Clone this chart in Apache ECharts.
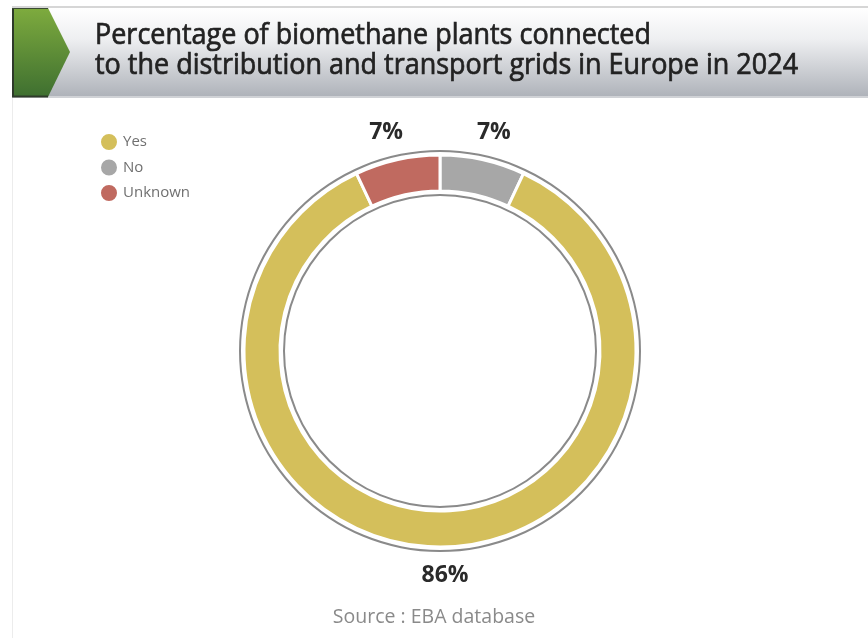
<!DOCTYPE html>
<html>
<head>
<meta charset="utf-8">
<script src="https://cdn.jsdelivr.net/npm/echarts@6/dist/echarts.min.js"></script>
<style>
html,body{margin:0;padding:0;background:#fff;}
#chart{width:868px;height:638px;}
</style>
</head>
<body>
<div id="chart"></div>
<script>
const titleLines = ['Percentage of biomethane plants connected', 'to the distribution and transport grids in Europe in 2024'];
const categories = ['Yes', 'No', 'Unknown'];
const values = [86, 7, 7];
const colors = { 'Yes': '#d4bf5b', 'No': '#a7a7a7', 'Unknown': '#c06a60' };
const drawOrder = ['No', 'Yes', 'Unknown']; // clockwise from 12 o'clock
const sourceText = 'Source : EBA database';

const chart = echarts.init(document.getElementById('chart'), null, { renderer: 'canvas' });

const pieData = drawOrder.map(name => ({
  name: name,
  value: values[categories.indexOf(name)],
  itemStyle: { color: colors[name] }
}));

const option = {
  backgroundColor: '#ffffff',
  animation: false,
  graphic: [
    { type: 'line', shape: { x1: 12, y1: 7, x2: 868, y2: 7 }, style: { stroke: '#c8c8c8', lineWidth: 1.5 } },
    { type: 'line', shape: { x1: 12.5, y1: 98, x2: 12.5, y2: 638 }, style: { stroke: '#ececec', lineWidth: 1 } },
    { type: 'rect', shape: { x: 12, y: 8, width: 856, height: 89 },
      style: { fill: new echarts.graphic.LinearGradient(0, 0, 0, 1, [
        { offset: 0, color: '#ffffff' }, { offset: 0.35, color: '#eeeff1' }, { offset: 1, color: '#aeb2b9' }]) } },
    { type: 'line', shape: { x1: 12, y1: 97, x2: 868, y2: 97 }, style: { stroke: '#d0d2d6', lineWidth: 2 } },
    { type: 'polygon', shape: { points: [[12, 8], [48, 8], [70, 52], [48, 97], [12, 97]] },
      style: { fill: new echarts.graphic.LinearGradient(0, 0, 0, 1, [
        { offset: 0, color: '#7eab3e' }, { offset: 1, color: '#3e6f30' }]) } },
    { type: 'line', shape: { x1: 13, y1: 8, x2: 13, y2: 97 }, style: { stroke: '#2e3a2a', lineWidth: 2 } },
    { type: 'line', shape: { x1: 12, y1: 96.5, x2: 48, y2: 96.5 }, style: { stroke: '#2e3a2a', lineWidth: 2 } },
    { type: 'line', shape: { x1: 12, y1: 8.5, x2: 48, y2: 8.5 }, style: { stroke: '#3a4a33', lineWidth: 1 } },
    { type: 'text', x: 95, y: 21, scaleX: 0.93, scaleY: 1,
      style: { text: titleLines.join('\n'), fill: '#222222', stroke: '#222222', lineWidth: 0.7,
        font: '29px "Open Sans", "Liberation Sans", sans-serif', lineHeight: 30 } },
    { type: 'text', left: 'center', top: 607,
      style: { text: sourceText, fill: '#8a8a8a', font: '19.5px "Open Sans", "Liberation Sans", sans-serif', x: 6 } }
  ],
  legend: {
    data: categories,
    orient: 'vertical',
    left: 94,
    top: 127,
    itemWidth: 18,
    itemHeight: 18,
    itemGap: 5.5,
    icon: 'circle',
    textStyle: { color: '#707070', fontSize: 15, fontFamily: '"Open Sans", "Liberation Sans", sans-serif' },
    selectedMode: false
  },
  series: [
    {
      type: 'pie',
      silent: true,
      center: [440, 351],
      radius: [199, 201],
      label: { show: false },
      labelLine: { show: false },
      itemStyle: { color: '#8a8a8a' },
      data: [{ name: 'outerRing', value: 1 }],
      legendHoverLink: false
    },
    {
      type: 'pie',
      silent: true,
      center: [440, 351],
      radius: [155, 157],
      label: { show: false },
      labelLine: { show: false },
      itemStyle: { color: '#8a8a8a' },
      data: [{ name: 'innerRing', value: 1 }],
      legendHoverLink: false
    },
    {
      type: 'pie',
      center: [440, 351],
      radius: [160, 196],
      startAngle: 90,
      clockwise: true,
      avoidLabelOverlap: false,
      itemStyle: { borderColor: '#ffffff', borderWidth: 3 },
      label: {
        show: true,
        position: 'outside',
        formatter: '{c}%',
        fontSize: 23,
        fontWeight: 'bold',
        color: '#2a2a2a',
        fontFamily: '"Open Sans", "Liberation Sans", sans-serif'
      },
      labelLine: { show: false, length: 28, length2: 0 },
      labelLayout: function () { return { align: 'center', verticalAlign: 'middle' }; },
      data: pieData
    }
  ]
};
chart.setOption(option);
</script>
</body>
</html>
